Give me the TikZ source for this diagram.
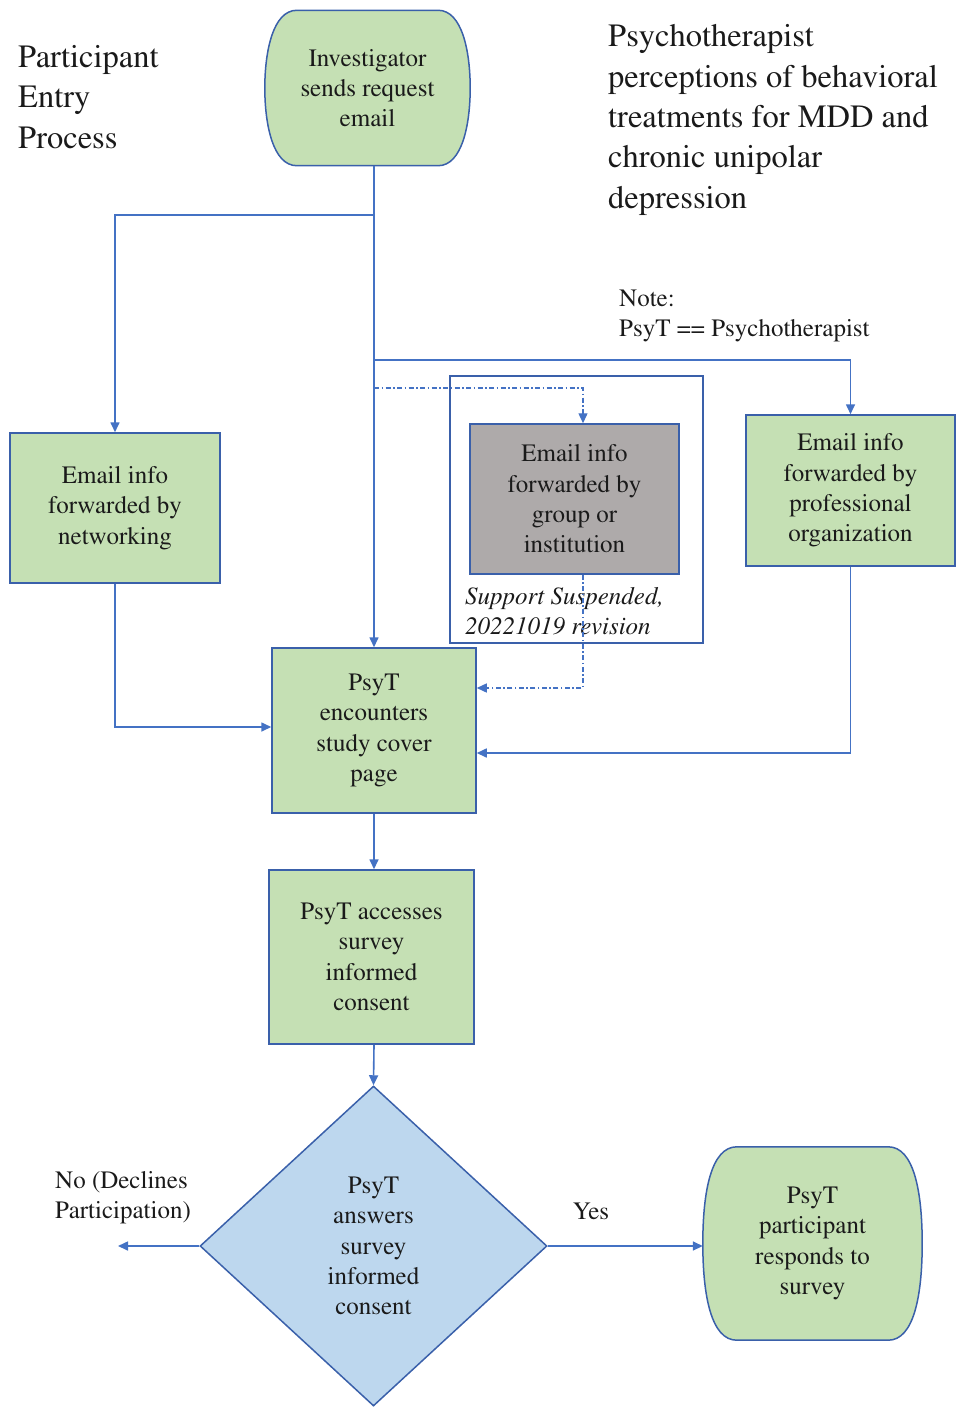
\documentclass[tikz,border=0pt]{standalone}
\usepackage[T1]{fontenc}
\usepackage{times}
\usetikzlibrary{shapes.geometric,arrows.meta,backgrounds}
\definecolor{bgreen}{HTML}{C5E0B4}
\definecolor{lblue}{HTML}{4472C4}
\definecolor{bedge}{HTML}{3A60AA}
\definecolor{bgrey}{HTML}{AEAAAA}
\definecolor{dblue}{HTML}{BDD7EE}
\definecolor{txt}{HTML}{1A1A1A}
\newcommand\boxfont{\fontsize{25}{30.3}\selectfont}
\newcommand\titlefont{\fontsize{32.5}{40.3}\selectfont}
% terminator outline around a (borderless) node: #1 name, #2 corner inset
\newcommand\termoutline[2]{%
  \path[draw=bedge, line width=1.5pt, fill=bgreen]
    ([xshift=#2pt]#1.north west) -- ([xshift=-#2pt]#1.north east)
    .. controls ([xshift=-0.25*#2pt]#1.north east) and ([yshift=-1.3*#2pt]#1.north east) .. (#1.east)
    .. controls ([yshift=1.3*#2pt]#1.south east) and ([xshift=-0.25*#2pt]#1.south east) .. ([xshift=-#2pt]#1.south east)
    -- ([xshift=#2pt]#1.south west)
    .. controls ([xshift=0.25*#2pt]#1.south west) and ([yshift=1.3*#2pt]#1.south west) .. (#1.west)
    .. controls ([yshift=-1.3*#2pt]#1.north west) and ([xshift=0.25*#2pt]#1.north west) .. ([xshift=#2pt]#1.north west)
    -- cycle;}
\tikzset{
  flowbox/.style={draw=bedge, line width=1.5pt, fill=bgreen, align=center, font=\boxfont, text=txt, inner sep=0pt},
  termbox/.style={align=center, font=\boxfont, text=txt, inner sep=0pt},
  conn/.style={draw=lblue, line width=1.6pt, -{Triangle[length=10pt,width=9pt]}},
  ddconn/.style={conn, line width=1.4pt, dash pattern=on 5pt off 2.5pt on 1.5pt off 2.5pt},
  label/.style={font=\boxfont, text=txt, inner sep=0pt, align=left},
}
\begin{document}
\begin{tikzpicture}[x=1pt, y=-1pt]
\useasboundingbox (0,0) rectangle (963,1407);

% titles
\node[font=\titlefont, text=txt, align=left, anchor=west, inner sep=0pt] (ttl) at (18,97) {Participant\\Entry\\Process};
\node[font=\titlefont, text=txt, align=left, anchor=west, inner sep=0pt] (ttr) at (608,120) {Psychotherapist\\perceptions of behavioral\\treatments for MDD and\\chronic unipolar\\depression};
\node[label, anchor=west] (note) at (619,316) {Note:\\PsyT == Psychotherapist};

% nodes
\node[termbox, minimum width=205pt, minimum height=155pt] (start) at (367.5,88) {Investigator\\sends request\\email};
\node[flowbox, minimum width=210pt, minimum height=150pt] (net) at (115,508) {Email info\\forwarded by\\networking};
\node[draw=bedge, line width=1.5pt, minimum width=253pt, minimum height=267pt, inner sep=0pt] (frm) at (576.5,509.5) {};
\node[flowbox, fill=bgrey, minimum width=209pt, minimum height=150pt] (grp) at (574.5,499) {Email info\\forwarded by\\group or\\institution};
\node[label, font=\boxfont\itshape, anchor=west] (sup) at (465,611) {Support Suspended,\\20221019 revision};
\node[flowbox, minimum width=209pt, minimum height=151pt] (prof) at (850.5,490.5) {Email info\\forwarded by\\professional\\organization};
\node[flowbox, minimum width=204pt, minimum height=165pt] (enc) at (374,730.5) {PsyT\\encounters\\study cover\\page};
\node[flowbox, minimum width=205pt, minimum height=174pt] (acc) at (371.5,957) {PsyT accesses\\survey\\informed\\consent};
\node[flowbox, diamond, fill=dblue, minimum width=347pt, minimum height=320pt] (dec) at (373.5,1246) {PsyT\\answers\\survey\\informed\\consent};
\node[termbox, minimum width=219pt, minimum height=193pt] (resp) at (812.5,1243.5) {PsyT\\participant\\responds to\\survey};

\begin{pgfonlayer}{background}
\termoutline{start}{32}
\termoutline{resp}{34}
\end{pgfonlayer}

\node[label, anchor=west] (no) at (55,1198) {No (Declines\\Participation)};
\node[label] (yes) at (591,1211) {Yes};
\coordinate (noend) at (118,1246);

% connectors
\coordinate (b1) at (374,215);
\coordinate (b2) at (374,360);
\coordinate (b3) at (374,388);
\draw[conn] (start.south -| enc.north) -- (enc.north);
\draw[conn] (b1) -| (net.north);
\draw[conn] (b2) -| (prof.north);
\draw[ddconn] (b3) -| ([xshift=8.5pt]grp.north);
\draw[ddconn] ([xshift=8.5pt]grp.south) |- ([yshift=42.5pt]enc.east);
\draw[conn] (net.south) |- ([yshift=3.5pt]enc.west);
\draw[conn] (prof.south) |- ([yshift=-22.5pt]enc.east);
\draw[conn] (enc.south) -- (enc.south |- acc.north);
\draw[conn] (acc.south -| enc.south) -- (dec.north);
\draw[conn] (dec.west) -- (noend);
\draw[conn] (dec.east) -- (dec.east -| resp.west);
\end{tikzpicture}
\end{document}
